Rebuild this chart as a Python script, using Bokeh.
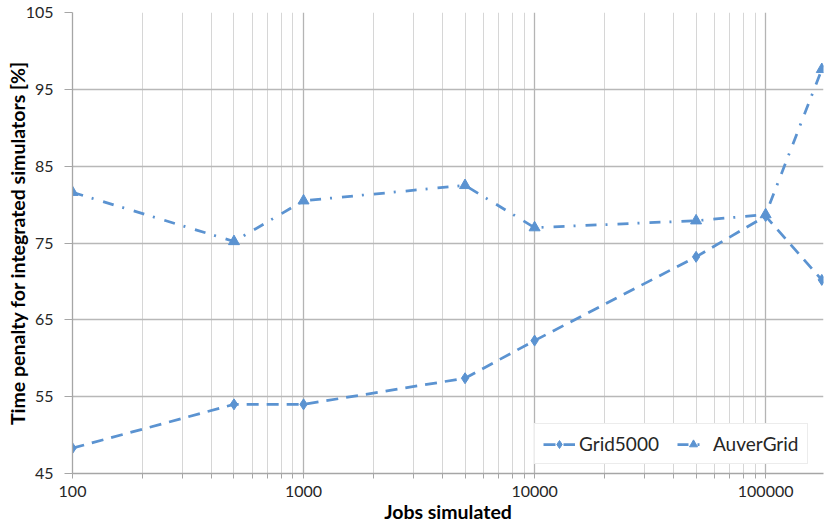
from bokeh.plotting import figure
from bokeh.models import (FixedTicker, NumeralTickFormatter, Range1d, Legend,
                          LegendItem, ColumnDataSource)
from bokeh.embed import file_html
from bokeh.resources import INLINE

# ---- data ----
jobs = [100, 500, 1000, 5000, 10000, 50000, 100000, 175000]
grid5000 = [48.3, 54.0, 54.0, 57.4, 62.3, 73.2, 78.5, 70.2]
auvergrid = [81.6, 75.2, 80.5, 82.5, 77.0, 77.9, 78.7, 97.6]
x_major_ticks = [100, 1000, 10000, 100000]
x_minor_ticks = [m * d for d in (100, 1000, 10000) for m in range(2, 10)]
y_ticks = [45, 55, 65, 75, 85, 95, 105]

BLUE = "#5B93D1"
FONT = "Lato"
TXT = "#262626"

src = ColumnDataSource(dict(x=jobs, g=grid5000, a=auvergrid))

p = figure(width=825, height=526, x_axis_type="log",
           x_range=Range1d(100, 178000), y_range=Range1d(45, 105),
           output_backend="svg", toolbar_location=None,
           min_border_left=72, min_border_right=2,
           min_border_top=12, min_border_bottom=53)
p.outline_line_color = None
p.background_fill_color = "white"
p.border_fill_color = "white"

# grids
p.xaxis.ticker = FixedTicker(ticks=x_major_ticks, minor_ticks=x_minor_ticks)
p.yaxis.ticker = FixedTicker(ticks=y_ticks, minor_ticks=[])
p.xgrid.grid_line_color = "#b4b4b4"
p.xgrid.grid_line_width = 1.3
p.xgrid.minor_grid_line_color = "#d6d6d6"
p.ygrid.grid_line_color = "#b8b8b8"
p.ygrid.grid_line_width = 1.3

# axes
for ax in (p.xaxis[0], p.yaxis[0]):
    ax.axis_line_color = "#a6a6a6"
    ax.axis_line_width = 1.3
    ax.major_tick_line_color = "#a6a6a6"
    ax.minor_tick_line_color = "#a6a6a6"
    ax.major_tick_in = 0
    ax.minor_tick_in = 0
    ax.major_label_text_font = FONT
    ax.major_label_text_font_size = "16px"
    ax.major_label_text_color = TXT
    ax.axis_label_text_font = FONT
    ax.axis_label_text_font_style = "bold"
    ax.axis_label_text_font_size = "19.5px"
    ax.axis_label_text_color = "black"

p.xaxis.formatter = NumeralTickFormatter(format="0")
p.xaxis.major_tick_out = 5
p.xaxis.minor_tick_out = 5
p.xaxis.major_label_standoff = 7
p.xaxis.axis_label = "Jobs simulated"
p.xaxis.axis_label_standoff = 0

p.yaxis.major_tick_out = 8
p.yaxis.minor_tick_out = 0
p.yaxis.major_label_standoff = 11
p.yaxis.axis_label = "Time penalty for integrated simulators [%]"
p.yaxis.axis_label_standoff = -6

# series
gl = p.line("x", "g", source=src, line_color=BLUE, line_width=2.75, line_dash="12 8")
gm = p.scatter("x", "g", source=src, marker="diamond", size=11, fill_color=BLUE,
               line_color=BLUE)
al = p.line("x", "a", source=src, line_color=BLUE, line_width=2.75, line_dash="11 9 2 10")
am = p.scatter("x", "a", source=src, marker="triangle", size=11, fill_color=BLUE,
               line_color=BLUE)

legend = Legend(items=[LegendItem(label="Grid5000", renderers=[gl, gm]),
                       LegendItem(label="AuverGrid", renderers=[al, am])],
                orientation="horizontal", location=(462, 9))
legend.label_text_font = FONT
legend.label_text_font_size = "19px"
legend.label_text_color = TXT
legend.glyph_width = 32
legend.label_standoff = 4
legend.spacing = 18
legend.padding = 8
legend.margin = 0
legend.border_line_color = "#d9d9d9"
legend.border_line_width = 1.3
legend.background_fill_color = "white"
legend.background_fill_alpha = 1.0
p.add_layout(legend, "center")

open("out.html", "w").write(file_html(p, INLINE))
